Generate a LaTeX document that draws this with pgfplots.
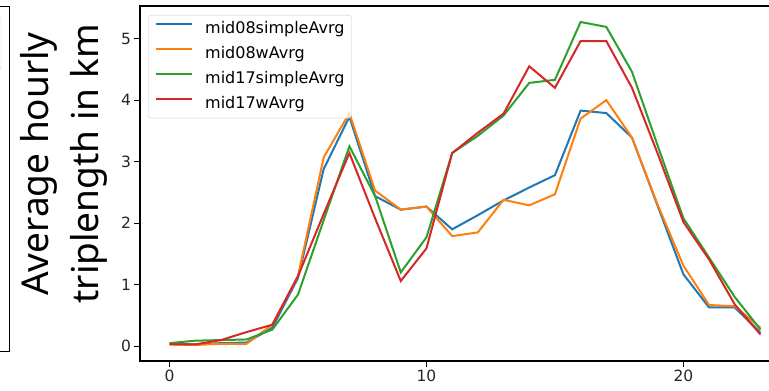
\documentclass[border=0pt]{standalone}
\usepackage{fontspec}
\setmainfont{DejaVu Sans}
\newfontfamily\labelfont{Noto Sans}
\usepackage{pgfplots}
\usepackage{pgfplotstable}
\pgfplotsset{compat=1.18}
\definecolor{cB}{HTML}{1F77B4}
\definecolor{cO}{HTML}{FF7F0E}
\definecolor{cG}{HTML}{2CA02C}
\definecolor{cR}{HTML}{D62728}

\pgfplotstableread{
h b o g r
0 0.04 0.03 0.05 0.03
1 0.03 0.02 0.09 0.03
2 0.05 0.04 0.10 0.10
3 0.06 0.04 0.11 0.23
4 0.30 0.35 0.27 0.35
5 1.11 1.14 0.84 1.14
6 2.88 3.07 2.05 2.15
7 3.73 3.79 3.25 3.14
8 2.44 2.53 2.44 2.08
9 2.22 2.22 1.20 1.06
10 2.27 2.27 1.77 1.59
11 1.90 1.79 3.14 3.14
12 2.13 1.85 3.42 3.47
13 2.37 2.38 3.75 3.78
14 2.58 2.29 4.28 4.55
15 2.78 2.47 4.33 4.20
16 3.83 3.70 5.27 4.96
17 3.79 4.00 5.19 4.96
18 3.39 3.39 4.46 4.20
19 2.28 2.30 3.26 3.13
20 1.17 1.31 2.08 2.02
21 0.63 0.67 1.44 1.41
22 0.63 0.65 0.80 0.68
23 0.22 0.30 0.27 0.19
}\data

\begin{document}
\begin{tikzpicture}
\useasboundingbox (0pt,0pt) rectangle (769pt,391pt);
\clip (0pt,0pt) rectangle (769pt,391pt);
\draw[line width=1pt] (-10pt,384pt) rectangle (9.3pt,39pt);
\draw[black!20, rounded corners=3pt] (-20pt,375pt) rectangle (1pt,321pt);
\node[font=\labelfont\fontsize{37}{50}\selectfont, rotate=90, align=center, inner sep=0pt] at (63.5pt,227pt) {Average hourly\\triplength in km};
\begin{axis}[
  at={(140pt,30pt)}, anchor=south west,
  scale only axis, width=650pt, height=355pt,
  xmin=-1.15, xmax=24.15, ymin=-0.24, ymax=5.53,
  xtick={0,10,20}, ytick={0,1,2,3,4,5},
  tick align=outside, xtick pos=left, ytick pos=left,
  major tick length=5.5pt,
  tick style={black, line width=1pt},
  axis line style={line width=1.2pt},
  /pgf/number format/assume math mode=true,
  tick label style={font=\fontsize{15.5}{18}\selectfont, text=black!85},
  legend style={at={(0,1)}, anchor=north west, xshift=8pt, yshift=-9pt,
    draw=black!20, rounded corners=3pt, fill=white, fill opacity=0.8, draw opacity=1, text opacity=1,
    font=\fontsize{16}{19}\selectfont, inner xsep=7pt, inner ysep=6pt,
    row sep=9pt, column sep=12pt,
    nodes={inner sep=0pt, text height=12pt, text depth=4pt}},
  legend cell align=left,
  legend image code/.code={\draw[#1, line width=2pt] (0pt,5pt) -- (36pt,5pt);},
]
\addplot[color=cB, line width=2pt, no markers] table[x=h,y=b]{\data};
\addlegendentry{mid08simpleAvrg}
\addplot[color=cO, line width=2pt, no markers] table[x=h,y=o]{\data};
\addlegendentry{mid08wAvrg}
\addplot[color=cG, line width=2pt, no markers] table[x=h,y=g]{\data};
\addlegendentry{mid17simpleAvrg}
\addplot[color=cR, line width=2pt, no markers] table[x=h,y=r]{\data};
\addlegendentry{mid17wAvrg}
\end{axis}
\end{tikzpicture}
\end{document}
